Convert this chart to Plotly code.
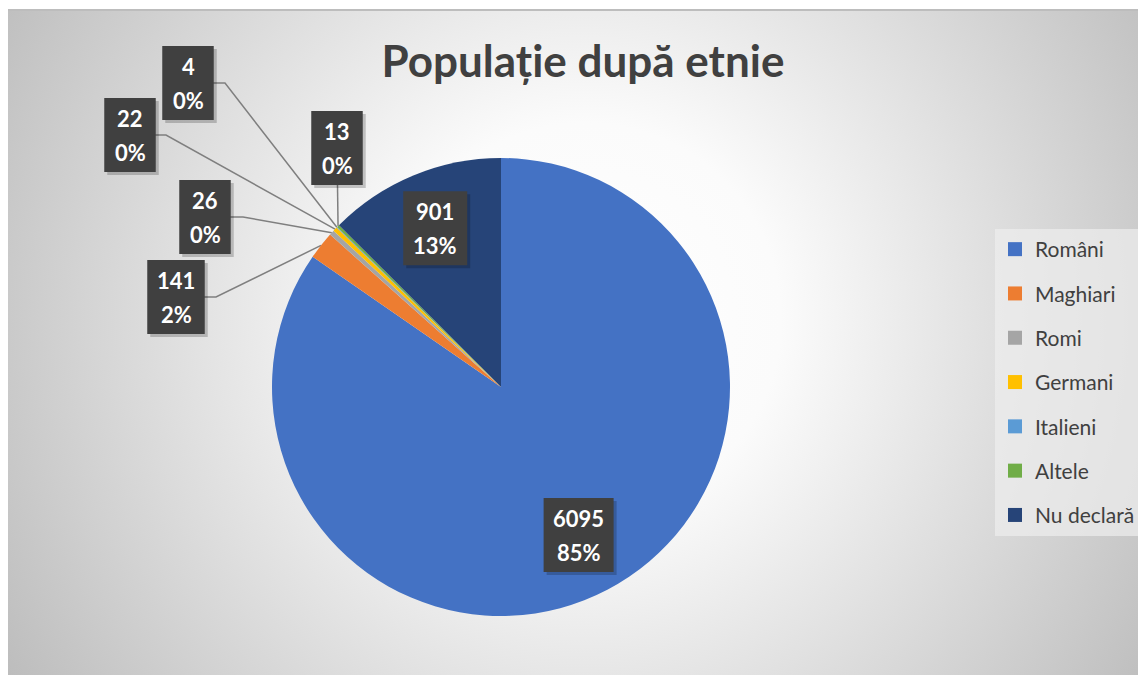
import math, base64
import plotly.graph_objects as go

# ---- data ----
labels = ["Români", "Maghiari", "Romi", "Germani", "Italieni", "Altele", "Nu declară"]
values = [6095, 141, 26, 22, 4, 13, 901]
percents = ["85%", "2%", "0%", "0%", "0%", "0%", "13%"]
colors = ["#4472C4", "#ED7D31", "#A5A5A5", "#FFC000", "#5B9BD5", "#70AD47", "#264478"]

# ---- layout constants (screen pixels; page body has an 8px margin) ----
OFF = 8
SW, SH = 1146, 675
W, H = SW - OFF, SH - OFF
CX, CY, R = 501, 387, 229
FONT = "Lato"
DARK = "#404040"

# label box placement (style): ("inside", radial fraction) or ("outside", box center, elbow x)
label_style = {
    "Români": ("inside", 0.73),
    "Maghiari": ("outside", (176, 297), 216),
    "Romi": ("outside", (205, 217), 243),
    "Germani": ("outside", (130, 135), 166),
    "Italieni": ("outside", (188, 83), 225),
    "Altele": ("outside", (337, 148), None),
    "Nu declară": ("inside", 0.75),
}
CHAR_W = {"%": 19.0}
def text_w(s):
    return sum(CHAR_W.get(c, 12.5) for c in s)

# gradient background as svg (covers the whole figure, white first pixel row)
svg = f'''<svg xmlns="http://www.w3.org/2000/svg" width="{W}" height="{H + 10}" viewBox="0 0 {W} {H + 10}" preserveAspectRatio="none">
<defs><radialGradient id="g" gradientUnits="userSpaceOnUse" cx="577" cy="311" r="700">
<stop offset="0" stop-color="#ffffff"/><stop offset="0.28" stop-color="#fbfbfb"/>
<stop offset="1" stop-color="#bababa"/></radialGradient></defs>
<rect x="0" y="0" width="{W}" height="{H + 10}" fill="url(#g)"/>
<rect x="0" y="0" width="{W}" height="1" fill="#ffffff"/>
<rect x="0" y="1" width="{W}" height="2" fill="#bdbdbd"/></svg>'''
src = "data:image/svg+xml;base64," + base64.b64encode(svg.encode()).decode()

fig = go.Figure()

fig.add_trace(go.Pie(
    labels=labels, values=values, sort=False, direction="clockwise", rotation=0,
    marker=dict(colors=colors, line=dict(width=0)),
    textinfo="none", hoverinfo="label+value+percent", showlegend=False,
    domain=dict(x=[(CX - OFF - R) / W, (CX - OFF + R) / W],
                y=[(SH - CY - R) / H, (SH - CY + R) / H]),
))

# legend entries
for lab, col in zip(labels, colors):
    fig.add_trace(go.Scatter(x=[None], y=[None], mode="markers", name=lab, legendgroup=lab,
                             marker=dict(symbol="square", size=14, color=col), xaxis="x", yaxis="y"))

total = sum(values)
cum = 0
annotations = []
shapes = []
BOX_H = 74
for lab, val, pct in zip(labels, values, percents):
    theta = 2 * math.pi * (cum + val / 2) / total
    cum += val
    st = label_style[lab]
    if st[0] == "inside":
        bx = CX + st[1] * R * math.sin(theta)
        by = CY - st[1] * R * math.cos(theta)
    else:
        bx, by = st[1]
        px = CX + R * math.sin(theta)
        py = CY - R * math.cos(theta)
        if st[2] is None:
            xs, ys = [bx, px], [by, py]
        else:
            xs, ys = [bx, st[2], px], [by, by, py]
        fig.add_trace(go.Scatter(x=xs, y=ys, mode="lines", line=dict(color="#7f7f7f", width=1.5),
                                 hoverinfo="skip", showlegend=False, xaxis="x", yaxis="y"))
    bw = max(text_w(str(val)), text_w(pct)) + 20
    # shadow
    shapes.append(dict(type="rect", xref="x", yref="y", x0=bx - bw / 2 + 3, x1=bx + bw / 2 + 3,
                       y0=by - BOX_H / 2 + 3, y1=by + BOX_H / 2 + 3,
                       fillcolor="rgba(0,0,0,0.2)", line=dict(width=0), layer="above"))
    shapes.append(dict(type="rect", xref="x", yref="y", x0=bx - bw / 2, x1=bx + bw / 2,
                       y0=by - BOX_H / 2, y1=by + BOX_H / 2,
                       fillcolor="#404040", line=dict(width=0), layer="above"))
    for txt, dy in ((str(val), -17), (pct, 17)):
        annotations.append(dict(x=bx, y=by + dy, xref="x", yref="y", text=f"<b>{txt}</b>", showarrow=False,
                                font=dict(family=FONT, size=22, color="white"),
                                xanchor="center", yanchor="middle"))

fig.update_layout(
    width=W, height=H,
    margin=dict(l=0, r=0, t=0, b=0),
    paper_bgcolor="#d0d0d0", plot_bgcolor="rgba(0,0,0,0)",
    xaxis=dict(range=[OFF, SW], visible=False, fixedrange=True, domain=[0, 1]),
    yaxis=dict(range=[SH, OFF], visible=False, fixedrange=True, domain=[0, 1]),
    title=dict(text="<b>Populație după etnie</b>", x=(583 - OFF) / W, y=1 - (62 - OFF) / H,
               xanchor="center", yanchor="middle",
               font=dict(family=FONT, size=44, color=DARK)),
    legend=dict(x=(995 - OFF) / W, y=1 - (229 - OFF) / H, xanchor="left", yanchor="top",
                bgcolor="rgba(238,238,238,0.7)", font=dict(family=FONT, size=21, color=DARK),
                tracegroupgap=14, itemwidth=30),
    annotations=annotations,
    shapes=shapes,
    images=[dict(source=src, xref="paper", yref="paper", x=0, y=1,
                 sizex=1, sizey=(H + 10) / H, sizing="stretch", layer="below",
                 xanchor="left", yanchor="top")],
)

fig.write_html("out.html")
